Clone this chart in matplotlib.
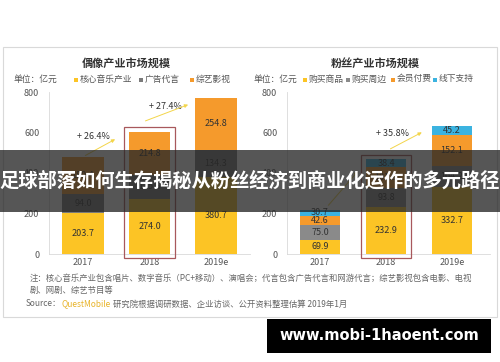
import numpy as np
import matplotlib
matplotlib.use('Agg')
from matplotlib import pyplot as plt
from matplotlib.patches import Rectangle

plt.rcParams['font.family'] = ['Noto Sans CJK SC', 'DejaVu Sans']

W, H = 500, 362

years = ['2017', '2018', '2019e']

# idol industry (left)
idol_names = ['核心音乐产业', '广告代言', '综艺影视']
idol_colors = ['#fcc425', '#7a7a7a', '#f59a2c']
idol_music = [203.7, 274.0, 380.7]
idol_ad = [94.0, 115.6, 134.3]
idol_show = [180.4, 214.8, 254.8]

# fan industry (right)
fan_names = ['购买商品', '购买周边', '会员付费', '线下支持']
fan_colors = ['#fcc425', '#8a8a8a', '#f59a2c', '#3bb3e0']
fan_goods = [69.9, 232.9, 332.7]
fan_merch = [75.0, 93.8, 104.2]
fan_member = [42.6, 101.9, 152.1]
fan_offline = [30.7, 38.4, 45.2]

idol_growth = ['+ 26.4%', '+ 27.4%']
fan_growth = ['', '+ 35.8%']


def fx(x):
    return x / W


def fy(y):
    return 1 - y / H


fig = plt.figure(figsize=(5, 3.62), dpi=100)
fig.patch.set_facecolor('white')

# card
fig.patches.append(Rectangle((fx(3), fy(317)), fx(494), (317 - 47) / H, transform=fig.transFigure,
                             facecolor='white', edgecolor='#d9d9d9', lw=0.8, zorder=-1))


def make_ax(x0, x1, c0, step):
    ax = fig.add_axes([fx(x0), fy(254), fx(x1 - x0), (254 - 92) / H])
    ax.set_xlim(-(c0 - x0) / step, (x1 - c0) / step)
    ax.set_ylim(0, 800)
    ax.patch.set_alpha(0)
    for s in ['top', 'right']:
        ax.spines[s].set_visible(False)
    ax.spines['left'].set_color('#d9d9d9')
    ax.spines['bottom'].set_color('#d9d9d9')
    ax.spines['left'].set_linewidth(0.6)
    ax.spines['bottom'].set_linewidth(0.6)
    ax.set_yticks([0, 200, 400, 600, 800])
    ax.tick_params(length=0, labelsize=6.5, colors='#555555', pad=7)
    ax.set_xticks(range(3))
    ax.set_xticklabels(years)
    ax.tick_params(axis='x', pad=3)
    return ax


def stack(ax, series, colors, width):
    x = np.arange(3)
    bottom = np.zeros(3)
    for vals, c in zip(series, colors):
        vals = np.array(vals)
        ax.bar(x, vals, width, bottom=bottom, color=c, zorder=2)
        for xi, b, v in zip(x, bottom, vals):
            ax.text(xi, b + v / 2, '%.1f' % v, ha='center', va='center', fontsize=6.5,
                    color='#333333', zorder=3)
        bottom = bottom + vals
    return bottom


ax1 = make_ax(49, 250, 83, 66.5)
tot1 = stack(ax1, [idol_music, idol_ad, idol_show], idol_colors, 0.63)
ax2 = make_ax(287, 490, 320, 66)
tot2 = stack(ax2, [fan_goods, fan_merch, fan_member, fan_offline], fan_colors, 0.62)

# highlight boxes around 2018
for ax, tot in [(ax1, tot1), (ax2, tot2)]:
    ax.add_patch(Rectangle((1 - 0.38, -18), 0.76, tot[1] + 40, fill=False,
                           edgecolor='#a8585c', lw=0.9, zorder=4, clip_on=False))

arrow = dict(arrowstyle='-|>', color='#f3d54a', lw=0.7, mutation_scale=5)
# left arrows
ax1.annotate('', xy=(0.52, tot1[0] + 95), xytext=(0.0, tot1[0] + 2), arrowprops=arrow, zorder=5)
ax1.text(0.15, tot1[0] + 100, idol_growth[0], ha='center', va='center', fontsize=6.5, color='#333333')
ax1.annotate('', xy=(1.62, tot1[1] + 138), xytext=(0.9, tot1[1] + 48), arrowprops=arrow, zorder=5)
ax1.text(1.24, tot1[1] + 122, idol_growth[1], ha='center', va='center', fontsize=6.5, color='#333333')
# right arrows
ax2.annotate('', xy=(0.6, tot2[0] + 200), xytext=(0.1, tot2[0] + 12), arrowprops=arrow, zorder=5)
ax2.annotate('', xy=(1.58, tot2[1] + 140), xytext=(1.03, tot2[1] + 46), arrowprops=arrow, zorder=5)
ax2.text(1.1, tot2[1] + 126, fan_growth[1], ha='center', va='center', fontsize=6.5, color='#333333')

# titles
fig.text(fx(126), fy(63), '偶像产业市场规模', ha='center', va='center', fontsize=8, fontweight='bold', color='#333333')
fig.text(fx(375), fy(63), '粉丝产业市场规模', ha='center', va='center', fontsize=8, fontweight='bold', color='#333333')
fig.text(fx(14), fy(79), '单位：亿元', ha='left', va='center', fontsize=6.3, color='#555555')
fig.text(fx(253), fy(79), '单位：亿元', ha='left', va='center', fontsize=6.3, color='#555555')


def legend(x_list, names, colors):
    for x, n, c in zip(x_list, names, colors):
        fig.patches.append(Rectangle((fx(x), fy(81.5)), fx(4), 4 / H, transform=fig.transFigure,
                                     facecolor=c, edgecolor='none'))
        fig.text(fx(x + 6), fy(79), n, ha='left', va='center', fontsize=6.3, color='#555555')


legend([74, 139, 190], idol_names, idol_colors)
legend([303, 346, 391, 433], fan_names, fan_colors)

# notes
fig.text(fx(30), fy(278), '注：核心音乐产业包含唱片、数字音乐（PC+移动）、演唱会；代言包含广告代言和网游代言；综艺影视包含电影、电视',
         ha='left', va='center', fontsize=6.0, color='#666666')
fig.text(fx(30), fy(290), '剧、网剧、综艺节目等', ha='left', va='center', fontsize=6.0, color='#666666')
fig.text(fx(26), fy(304), 'Source：', ha='left', va='center', fontsize=6.0, color='#666666')
fig.text(fx(61), fy(304), 'QuestMobile', ha='left', va='center', fontsize=6.0, color='#e8b42a')
fig.text(fx(113), fy(304), '研究院根据调研数据、企业访谈、公开资料整理估算 2019年1月', ha='left', va='center',
         fontsize=6.0, color='#666666')

# banner overlay
fig.patches.append(Rectangle((0, fy(212)), 1, (212 - 150) / H, transform=fig.transFigure,
                             facecolor='#262626', alpha=0.78, edgecolor='none', zorder=10))
fig.text(0.5, fy(181), '足球部落如何生存揭秘从粉丝经济到商业化运作的多元路径', ha='center', va='center',
         fontsize=13.9, fontweight='bold', color='white', zorder=11)

# watermark box
fig.patches.append(Rectangle((fx(267), fy(353)), fx(224), (353 - 319) / H, transform=fig.transFigure,
                             facecolor='black', edgecolor='none', zorder=10))
fig.text(fx(379), fy(336), 'www.mobi-1haoent.com', ha='center', va='center', fontsize=10.5,
         fontweight='bold', color='white', family='DejaVu Sans', zorder=11)

fig.savefig('out.png', dpi=100)
